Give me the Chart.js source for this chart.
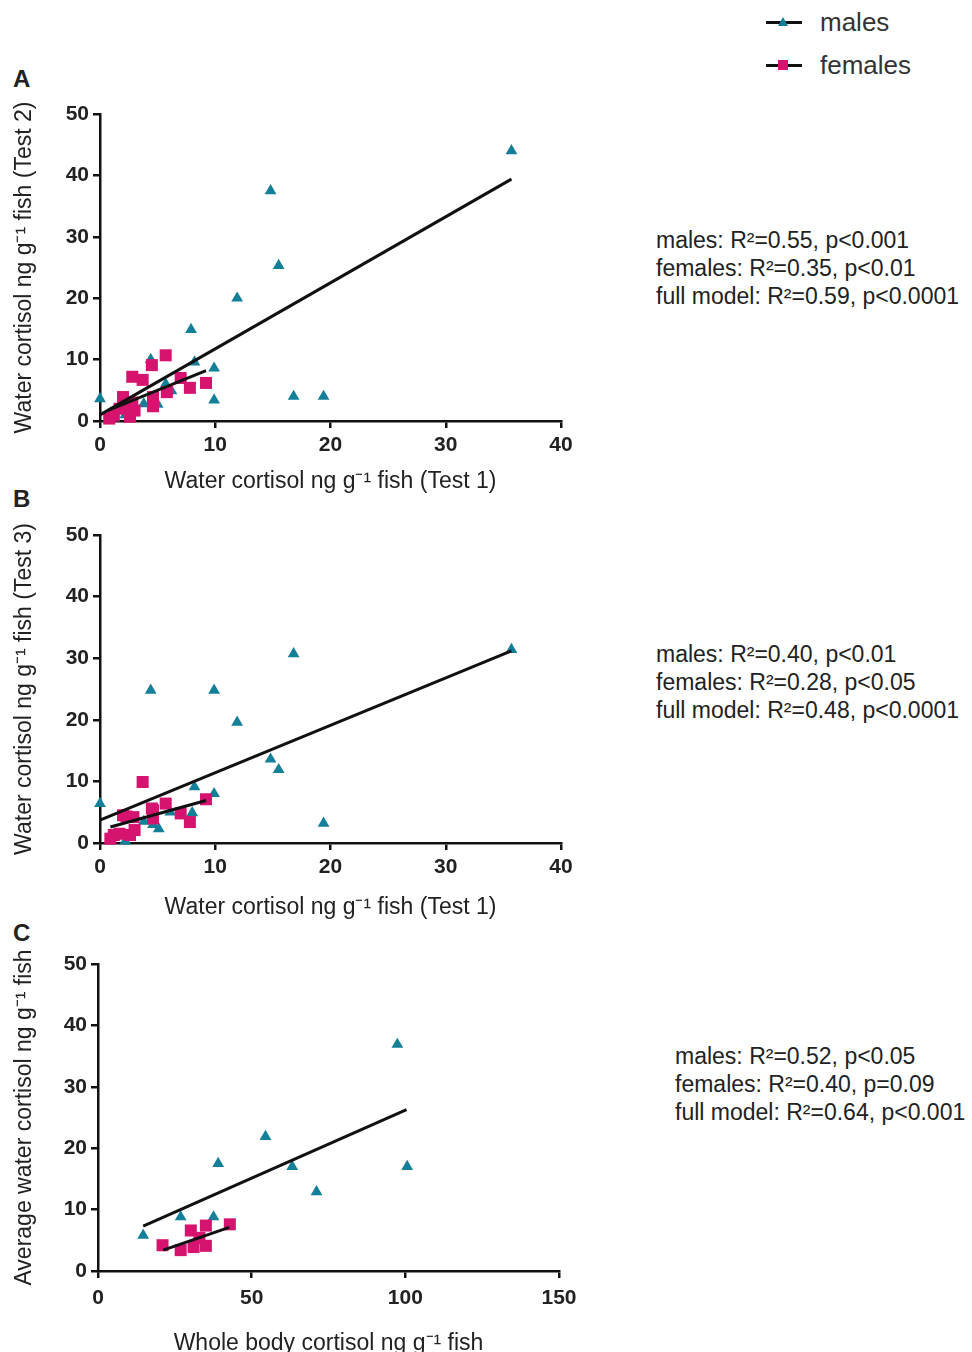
<!DOCTYPE html>
<html>
<head>
<meta charset="utf-8">
<script src="https://cdn.jsdelivr.net/npm/chart.js@4.4.1/dist/chart.umd.min.js"></script>
<style>
  html, body { margin: 0; padding: 0; background: #fff; overflow: hidden; }
  body { width: 972px; height: 1352px; position: relative; font-family: 'Liberation Sans', Arial, sans-serif; color: #222; }
  canvas { position: absolute; left: 0; }
  .letter { position: absolute; left: 13px; font-weight: bold; font-size: 24px; line-height: 24px; }
  .stats { position: absolute; font-size: 23px; line-height: 28px; white-space: nowrap; }
  .legtext { position: absolute; left: 820px; font-size: 26px; line-height: 30px; color: #333; }
  .legline { position: absolute; left: 766px; width: 36px; height: 3px; background: #111; }
  .tri { position: absolute; left: 778px; width: 0; height: 0; border-left: 5px solid transparent; border-right: 5px solid transparent; border-bottom: 9px solid #137f99; }
  .sq { position: absolute; left: 778px; width: 10px; height: 10px; background: #d6136f; }
</style>
</head>
<body>

<div class="legline" style="top:21px"></div>
<div class="tri" style="top:17px"></div>
<div class="legtext" style="top:7px">males</div>
<div class="legline" style="top:64px"></div>
<div class="sq" style="top:60px"></div>
<div class="legtext" style="top:50px">females</div>

<div class="letter" style="top:67px">A</div>
<div class="letter" style="top:487px">B</div>
<div class="letter" style="top:921px">C</div>

<canvas id="chartA" width="600" height="406" style="top:94px"></canvas>
<canvas id="chartB" width="600" height="411" style="top:515px"></canvas>
<canvas id="chartC" width="600" height="418" style="top:944px"></canvas>

<div class="stats" style="left:656px; top:226px">males: R²=0.55, p&lt;0.001<br>females: R²=0.35, p&lt;0.01<br>full model: R²=0.59, p&lt;0.0001</div>
<div class="stats" style="left:656px; top:640px">males: R²=0.40, p&lt;0.01<br>females: R²=0.28, p&lt;0.05<br>full model: R²=0.48, p&lt;0.0001</div>
<div class="stats" style="left:675px; top:1042px">males: R²=0.52, p&lt;0.05<br>females: R²=0.40, p=0.09<br>full model: R²=0.64, p&lt;0.001</div>

<script>
// Panel A: water cortisol Test 1 vs Test 2
let maleA_x = [0, 2.2, 3.8, 4.4, 4.6, 5.0, 5.7, 6.2, 7.9, 8.2, 9.9, 9.9, 11.9, 14.8, 15.5, 16.8, 19.4, 35.7];
let maleA_y = [3.6, 1.0, 2.8, 10.0, 3.5, 2.7, 6.0, 4.9, 14.9, 9.6, 8.6, 3.4, 20.0, 37.5, 25.3, 4.0, 4.0, 44.0];
let femaleA_x = [0.8, 1.2, 1.7, 2.0, 2.3, 2.6, 2.8, 2.8, 3.0, 3.7, 4.5, 4.6, 4.6, 5.7, 5.8, 7.0, 7.8, 9.2];
let femaleA_y = [0.4, 0.9, 2.0, 3.9, 2.5, 0.7, 7.2, 3.0, 1.7, 6.7, 9.1, 3.9, 2.4, 10.7, 4.7, 7.0, 5.4, 6.2];
let fitMaleA = {x: [0, 35.7], y: [1.0, 39.4]};
let fitFemaleA = {x: [0.8, 9.2], y: [1.8, 8.2]};

// Panel B: water cortisol Test 1 vs Test 3
let maleB_x = [0, 2.2, 3.8, 4.4, 4.6, 5.1, 6.1, 8.0, 8.2, 9.9, 9.9, 11.9, 14.8, 15.5, 16.8, 19.4, 35.7];
let maleB_y = [6.4, 0.3, 3.5, 24.8, 3.0, 2.3, 5.0, 4.9, 9.1, 8.0, 24.8, 19.6, 13.6, 11.9, 30.7, 3.2, 31.4];
let femaleB_x = [0.9, 1.2, 1.7, 2.0, 2.3, 2.6, 2.9, 3.0, 3.7, 4.5, 4.6, 4.6, 5.7, 7.0, 7.8, 9.2];
let femaleB_y = [0.7, 1.3, 1.5, 4.5, 4.3, 1.3, 4.2, 2.1, 9.9, 5.6, 5.3, 4.0, 6.4, 4.8, 3.4, 7.1];
let fitMaleB = {x: [0, 35.7], y: [3.7, 31.2]};
let fitFemaleB = {x: [0.9, 9.2], y: [2.6, 6.9]};

// Panel C: whole body cortisol vs average water cortisol
let maleC_x = [14.7, 26.9, 37.6, 39.1, 54.5, 63.2, 71.1, 97.4, 100.6];
let maleC_y = [5.8, 8.8, 8.8, 17.5, 21.9, 17.0, 12.9, 36.9, 17.0];
let femaleC_x = [21.0, 26.9, 30.2, 31.1, 33.0, 35.1, 35.1, 42.9];
let femaleC_y = [4.2, 3.4, 6.6, 3.9, 5.4, 7.4, 4.1, 7.6];
let fitMaleC = {x: [14.7, 100.4], y: [7.3, 26.3]};
let fitFemaleC = {x: [21.2, 42.7], y: [3.4, 7.1]};

let ticksTest = [0, 10, 20, 30, 40];
let ticksWater = [0, 10, 20, 30, 40, 50];
let ticksBody = [0, 50, 100, 150];

Chart.defaults.font.family = "'Liberation Sans', Arial, sans-serif";
Chart.defaults.color = '#222';

let teal = '#137f99';
let pink = '#d6136f';

function pts(xs, ys) {
  return xs.map((x, i) => ({x: x, y: ys[i]}));
}

function fitLine(fit) {
  return {
    type: 'line',
    data: pts(fit.x, fit.y),
    borderColor: '#111',
    borderWidth: 3,
    pointRadius: 0,
    showLine: true,
    fill: false,
    clip: false
  };
}

function makePanel(id, o) {
  let ctx = document.getElementById(id).getContext('2d');
  return new Chart(ctx, {
    type: 'scatter',
    data: {
      datasets: [
        fitLine(o.fitMale),
        fitLine(o.fitFemale),
        { label: 'females', data: pts(o.fx, o.fy), pointStyle: 'rect', pointRadius: 8.5,
          backgroundColor: pink, borderColor: pink, borderWidth: 0, clip: false },
        { label: 'males', data: pts(o.mx, o.my), pointStyle: 'triangle', pointRadius: 6.8,
          backgroundColor: teal, borderColor: teal, borderWidth: 0, clip: false }
      ]
    },
    options: {
      responsive: false,
      animation: false,
      devicePixelRatio: 1,
      layout: { padding: { top: 20, right: o.padRight, left: 0, bottom: 0 } },
      plugins: { legend: { display: false }, tooltip: { enabled: false } },
      scales: {
        x: {
          type: 'linear',
          min: o.xTicks[0],
          max: o.xTicks[o.xTicks.length - 1],
          afterBuildTicks: s => { s.ticks = o.xTicks.map(v => ({value: v})); },
          afterFit: s => { s.height = o.xHeight; },
          border: { color: '#111', width: 2.5 },
          grid: { drawOnChartArea: false, drawTicks: true, tickLength: 7, color: '#111', lineWidth: 2.5 },
          ticks: { padding: o.xTickPad, font: { size: 21, weight: 'bold' }, color: '#222', maxRotation: 0 },
          title: { display: true, text: o.xTitle, font: { size: 23 }, color: '#222', padding: { top: 0, bottom: 5 } }
        },
        y: {
          type: 'linear',
          min: 0,
          max: 50,
          afterBuildTicks: s => { s.ticks = ticksWater.map(v => ({value: v})); },
          afterFit: s => { s.width = o.yWidth; },
          border: { color: '#111', width: 2.5 },
          grid: { drawOnChartArea: false, drawTicks: true, tickLength: 7, color: '#111', lineWidth: 2.5 },
          ticks: { padding: 4, font: { size: 21, weight: 'bold' }, color: '#222' },
          title: { display: true, text: o.yTitle, font: { size: 23 }, color: '#222', padding: { top: 11, bottom: 0 } }
        }
      }
    }
  });
}

makePanel('chartA', {
  mx: maleA_x, my: maleA_y, fx: femaleA_x, fy: femaleA_y,
  fitMale: fitMaleA, fitFemale: fitFemaleA,
  xTicks: ticksTest, xHeight: 79, yWidth: 100, padRight: 39, xTickPad: 5,
  xTitle: 'Water cortisol ng g⁻¹ fish (Test 1)',
  yTitle: 'Water cortisol ng g⁻¹ fish (Test 2)'
});

makePanel('chartB', {
  mx: maleB_x, my: maleB_y, fx: femaleB_x, fy: femaleB_y,
  fitMale: fitMaleB, fitFemale: fitFemaleB,
  xTicks: ticksTest, xHeight: 83, yWidth: 100, padRight: 39, xTickPad: 5,
  xTitle: 'Water cortisol ng g⁻¹ fish (Test 1)',
  yTitle: 'Water cortisol ng g⁻¹ fish (Test 3)'
});

makePanel('chartC', {
  mx: maleC_x, my: maleC_y, fx: femaleC_x, fy: femaleC_y,
  fitMale: fitMaleC, fitFemale: fitFemaleC,
  xTicks: ticksBody, xHeight: 91, yWidth: 98, padRight: 41, xTickPad: 8,
  xTitle: 'Whole body cortisol ng g⁻¹ fish',
  yTitle: 'Average water cortisol ng g⁻¹ fish'
});
</script>
</body>
</html>
